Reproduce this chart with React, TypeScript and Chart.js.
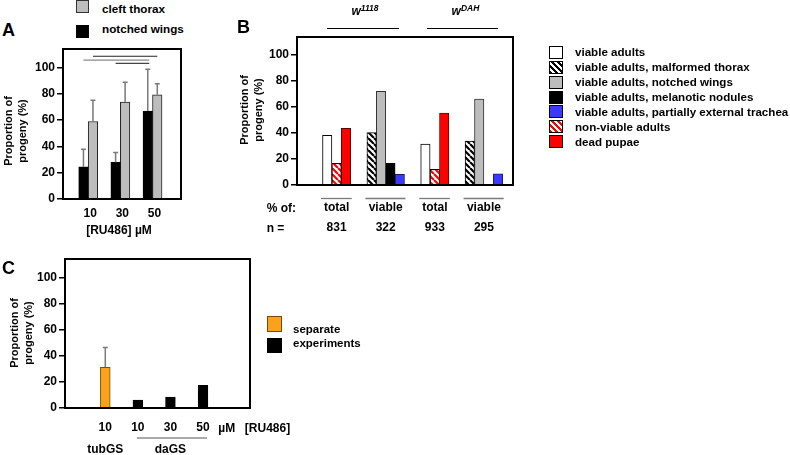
import React, { useEffect, useRef } from 'react';
import { Chart, registerables } from 'chart.js';

Chart.register(...registerables);

const FONT = '"Liberation Sans", Arial, Helvetica, sans-serif';
Chart.defaults.font.family = FONT;
Chart.defaults.color = '#000';

// ---------------- data ----------------
const yTicks = [0, 20, 40, 60, 80, 100];
const yMax = 114;

// Panel A
const aDoses = ['10', '30', '50'];
const aNotchedWings = [24.5, 27.9, 66.8];
const aNotchedWingsSd = [13.3, 7.4, 31.9];
const aCleftThorax = [58.9, 73.6, 79.2];
const aCleftThoraxSd = [16.2, 15.2, 8.4];
const aLegend = ['cleft thorax', 'notched wings'];
// significance bars: [datasetIndex, doseIndex] from -> to, level in %
const aSigFrom = [[1, 0], [0, 0], [0, 1]];
const aSigTo = [[1, 2], [0, 2], [0, 2]];
const aSigLevel = [108.5, 105.5, 103];

// Panel B
const bGroups = ['total', 'viable', 'total', 'viable'];
const bCounts = ['831', '322', '933', '295'];
const bGenotypes = ['1118', 'DAH'];
const bNames = [
  'viable adults',
  'viable adults, malformed thorax',
  'viable adults, notched wings',
  'viable adults, melanotic nodules',
  'viable adults, partially external trachea',
  'non-viable adults',
  'dead pupae',
];
const bViableAdults = [38.3, null, 31.6, null];
const bMalformedThorax = [null, 40.3, null, 33.9];
const bNotchedWings = [null, 72.2, null, 66.1];
const bMelanoticNodules = [null, 16.6, null, 0];
const bExternalTrachea = [null, 8.2, null, 8.7];
const bNonViable = [16.6, null, 12.0, null];
const bDeadPupae = [43.6, null, 55.4, null];
const bSeries = [bViableAdults, bMalformedThorax, bNotchedWings, bMelanoticNodules, bExternalTrachea, bNonViable, bDeadPupae];

// Panel C
const cDoses = ['10', '10', '30', '50'];
const cDrivers = ['tubGS', '', 'daGS', ''];
const cValues = [31.1, 6.1, 8.4, 17.3];
const cSd = [15.1, null, null, null];
const cDriverKind = ['tub', 'da', 'da', 'da'];

// ---------------- styles / layout ----------------
const GRAY = '#bdbdbd';
const RED = '#ff0000';
const BLUE = '#3a3aff';
const ORANGE = '#fba21c';

type Frame = { cl: number; ct: number; cw: number; ch: number; L: number; T: number; R: number; B: number };
const FA: Frame = { cl: 0, ct: 40, cw: 190, ch: 185, L: 63, T: 49, R: 181, B: 199 };
const FB: Frame = { cl: 230, ct: 30, cw: 290, ch: 215, L: 297, T: 37, R: 513, B: 185 };
const FC: Frame = { cl: 0, ct: 250, cw: 260, ch: 205, L: 65, T: 259, R: 250, B: 408 };

function hatchPattern(color: string) {
  const p = 6;
  const c = document.createElement('canvas');
  c.width = p;
  c.height = p;
  const g = c.getContext('2d')!;
  g.fillStyle = '#fff';
  g.fillRect(0, 0, p, p);
  g.strokeStyle = color;
  g.lineWidth = 2.2;
  g.beginPath();
  for (const o of [-p, 0, p]) {
    g.moveTo(o, 0);
    g.lineTo(o + p, p);
  }
  g.stroke();
  return g.createPattern(c, 'repeat');
}
const hatchCss = (color: string) =>
  `repeating-linear-gradient(45deg, ${color} 0px, ${color} 1.7px, #fff 1.7px, #fff 4.2px)`;

const framePlugin = {
  id: 'frame',
  afterDraw(chart: any) {
    const { ctx, chartArea: a } = chart;
    ctx.save();
    ctx.strokeStyle = '#000';
    ctx.lineWidth = 2;
    ctx.strokeRect(a.left, a.top, a.right - a.left, a.bottom - a.top);
    ctx.restore();
  },
};

const errorBarPlugin = {
  id: 'errorBars',
  afterDatasetsDraw(chart: any) {
    const { ctx } = chart;
    const ys = chart.scales.y;
    chart.data.datasets.forEach((ds: any, di: number) => {
      if (!ds.sd) return;
      const meta = chart.getDatasetMeta(di);
      meta.data.forEach((bar: any, i: number) => {
        const sd = ds.sd[i];
        const v = ds.data[i].y;
        if (sd == null || v == null) return;
        const top = ys.getPixelForValue(v + sd);
        ctx.save();
        ctx.strokeStyle = '#7a7a7a';
        ctx.lineWidth = 1.5;
        ctx.beginPath();
        ctx.moveTo(bar.x, bar.y);
        ctx.lineTo(bar.x, top);
        ctx.moveTo(bar.x - 2.5, top);
        ctx.lineTo(bar.x + 2.5, top);
        ctx.stroke();
        ctx.restore();
      });
    });
  },
};

function makeOptions(
  f: Frame,
  xMin: number,
  xMax: number,
  labels: (string | string[])[],
  tickPad: number,
  lineHeight: number | string,
  labelOffset: number
) {
  return {
    responsive: false,
    animation: false,
    events: [],
    layout: { padding: { left: 0, top: f.T - f.ct, right: f.cl + f.cw - f.R, bottom: 0 } },
    plugins: { legend: { display: false }, tooltip: { enabled: false } },
    scales: {
      x: {
        type: 'linear',
        min: xMin,
        max: xMax,
        offset: false,
        grid: { display: false, offset: false, drawTicks: false, tickLength: 0 },
        border: { display: false },
        afterFit: (s: any) => {
          s.height = f.ct + f.ch - f.B;
          s.paddingLeft = 0;
          s.paddingRight = 0;
        },
        afterBuildTicks: (s: any) => {
          s.ticks = labels.map((_, i) => ({ value: i }));
        },
        ticks: {
          autoSkip: false,
          maxRotation: 0,
          minRotation: 0,
          padding: tickPad,
          labelOffset,
          color: '#000',
          font: { size: 12, weight: 'bold', lineHeight },
          callback: (v: number) => labels[v],
        },
      },
      y: {
        min: 0,
        max: yMax,
        grid: { drawOnChartArea: false, color: '#000', lineWidth: 1.5, tickLength: 6 },
        border: { display: false },
        afterFit: (s: any) => {
          s.width = f.L - f.cl;
          s.paddingTop = 0;
          s.paddingBottom = 0;
        },
        afterBuildTicks: (s: any) => {
          s.ticks = yTicks.map((v) => ({ value: v }));
        },
        ticks: { padding: 2, color: '#000', font: { size: 12, weight: 'bold' } },
      },
    },
  } as any;
}

const toPoints = (arr: (number | null)[]) => arr.map((y, i) => ({ x: i, y }));

// ---------------- small HTML helpers ----------------
const T = ({ x, y, a = 'l', s = 12, it = false, children }: any) => (
  <div
    style={{
      position: 'absolute',
      left: x,
      top: y,
      transform: `translate(${a === 'l' ? '0' : a === 'c' ? '-50%' : '-100%'}, -50%)`,
      font: `${it ? 'italic ' : ''}bold ${s}px ${FONT}`,
      lineHeight: 1,
      whiteSpace: 'nowrap',
      color: '#000',
    }}
  >
    {children}
  </div>
);

const VLabel = ({ cx, cy, lines, s = 11, lh = 13.5 }: any) => (
  <div
    style={{
      position: 'absolute',
      left: cx,
      top: cy,
      transform: 'translate(-50%, -50%) rotate(-90deg)',
      font: `bold ${s}px ${FONT}`,
      lineHeight: `${lh}px`,
      textAlign: 'center',
      whiteSpace: 'nowrap',
    }}
  >
    {lines.map((l: string, i: number) => (
      <div key={i}>{l}</div>
    ))}
  </div>
);

const HL = ({ x1, x2, y, c = '#000', w = 1 }: any) => (
  <div style={{ position: 'absolute', left: x1, top: y - w / 2, width: x2 - x1, height: w, background: c }} />
);

const Swatch = ({ x, y, w, h, bg, bc = '#000' }: any) => (
  <div
    style={{
      position: 'absolute',
      left: x,
      top: y,
      width: w,
      height: h,
      background: bg,
      border: `1px solid ${bc}`,
      boxSizing: 'border-box',
    }}
  />
);

const Geno = ({ x, sup }: any) => (
  <div
    style={{
      position: 'absolute',
      left: x,
      top: 5,
      transform: 'translateX(-50%)',
      font: `italic bold 12px ${FONT}`,
      lineHeight: '12px',
      whiteSpace: 'nowrap',
    }}
  >
    w<span style={{ fontSize: 8.5, position: 'relative', top: -4 }}>{sup}</span>
  </div>
);

export default function App() {
  const aRef = useRef<HTMLCanvasElement>(null);
  const bRef = useRef<HTMLCanvasElement>(null);
  const cRef = useRef<HTMLCanvasElement>(null);

  useEffect(() => {
    const charts: Chart[] = [];

    // ---- Panel A ----
    const sigPlugin = {
      id: 'sig',
      afterDatasetsDraw(chart: any) {
        const { ctx } = chart;
        const colors = ['#222', '#8a8a8a', '#444'];
        aSigLevel.forEach((lvl, k) => {
          const e1 = chart.getDatasetMeta(aSigFrom[k][0]).data[aSigFrom[k][1]];
          const e2 = chart.getDatasetMeta(aSigTo[k][0]).data[aSigTo[k][1]];
          const y = chart.scales.y.getPixelForValue(lvl);
          ctx.save();
          ctx.strokeStyle = colors[k];
          ctx.lineWidth = 1.2;
          ctx.beginPath();
          ctx.moveTo(e1.x, y);
          ctx.lineTo(e2.x + (k === 0 ? 0 : 1.5), y);
          ctx.stroke();
          ctx.restore();
        });
      },
    };
    charts.push(
      new Chart(aRef.current!, {
        type: 'bar',
        data: {
          datasets: [
            {
              label: aLegend[1],
              data: toPoints(aNotchedWings),
              backgroundColor: '#000',
              borderColor: '#000',
              borderWidth: 1,
              barThickness: 9.5,
              sd: aNotchedWingsSd,
            } as any,
            {
              label: aLegend[0],
              data: toPoints(aCleftThorax),
              backgroundColor: GRAY,
              borderColor: '#222',
              borderWidth: 1,
              barThickness: 9.5,
              sd: aCleftThoraxSd,
            } as any,
          ],
        },
        options: makeOptions(FA, -0.784, 2.886, aDoses, 7, 1.2, 2),
        plugins: [framePlugin, errorBarPlugin, sigPlugin],
      })
    );

    // ---- Panel B ----
    const bFills: any[] = ['#fff', hatchPattern('#000'), GRAY, '#000', BLUE, hatchPattern(RED), RED];
    const bBorders = ['#000', '#000', '#333', '#000', '#1a1a80', '#000', '#600'];
    const groupLinePlugin = {
      id: 'groupLines',
      afterDraw(chart: any) {
        const { ctx, chartArea } = chart;
        ctx.save();
        ctx.strokeStyle = '#7a7a7a';
        ctx.lineWidth = 1.3;
        bGroups.forEach((_, i) => {
          let lo = Infinity;
          let hi = -Infinity;
          chart.data.datasets.forEach((ds: any, di: number) => {
            const el = chart.getDatasetMeta(di).data[i];
            if (ds.data[i].y == null || !el) return;
            lo = Math.min(lo, el.x - el.width / 2);
            hi = Math.max(hi, el.x + el.width / 2);
          });
          const y = chartArea.bottom + 13.5;
          ctx.beginPath();
          ctx.moveTo(lo - 1.5, y);
          ctx.lineTo(hi + 1, y);
          ctx.stroke();
        });
        ctx.restore();
      },
    };
    charts.push(
      new Chart(bRef.current!, {
        type: 'bar',
        data: {
          datasets: bSeries.map((vals, k) => ({
            label: bNames[k],
            data: toPoints(vals),
            backgroundColor: bFills[k],
            borderColor: bBorders[k],
            borderWidth: 1,
            barThickness: 9.4,
            skipNull: true,
          })) as any,
        },
        options: makeOptions(
          FB,
          -0.807,
          3.593,
          bGroups.map((g, i) => [g, bCounts[i]]),
          12.7,
          '20px',
          0
        ),
        plugins: [framePlugin, groupLinePlugin],
      })
    );

    // ---- Panel C ----
    const daLinePlugin = {
      id: 'daLine',
      afterDraw(chart: any) {
        const { ctx, chartArea } = chart;
        const xs = chart.scales.x;
        const idx = cDriverKind.map((k, i) => (k === 'da' ? i : -1)).filter((i) => i >= 0);
        const x1 = xs.getPixelForValue(idx[0]) - 1;
        const x2 = xs.getPixelForValue(idx[idx.length - 1]) + 4;
        const y = chartArea.bottom + 30;
        ctx.save();
        ctx.strokeStyle = '#555';
        ctx.lineWidth = 1.2;
        ctx.beginPath();
        ctx.moveTo(x1, y);
        ctx.lineTo(x2, y);
        ctx.stroke();
        ctx.restore();
      },
    };
    charts.push(
      new Chart(cRef.current!, {
        type: 'bar',
        data: {
          datasets: [
            {
              label: 'separate experiments',
              data: toPoints(cValues),
              backgroundColor: cDriverKind.map((k) => (k === 'tub' ? ORANGE : '#000')),
              borderColor: cDriverKind.map((k) => (k === 'tub' ? '#7a4a00' : '#000')),
              borderWidth: 1,
              barThickness: 9.8,
              sd: cSd,
            } as any,
          ],
        },
        options: makeOptions(
          FC,
          -1.237,
          4.443,
          cDoses.map((d, i) => [d, cDrivers[i]]),
          9,
          '22px',
          0
        ),
        plugins: [framePlugin, errorBarPlugin, daLinePlugin],
      })
    );

    return () => charts.forEach((c) => c.destroy());
  }, []);

  const bCss = ['#fff', hatchCss('#000'), GRAY, '#000', BLUE, hatchCss(RED), RED];

  return (
    <div
      style={{
        position: 'absolute',
        left: 0,
        top: 0,
        width: 790,
        height: 455,
        background: '#fff',
        overflow: 'hidden',
        fontFamily: FONT,
      }}
    >
      <canvas ref={aRef} width={FA.cw} height={FA.ch} style={{ position: 'absolute', left: FA.cl, top: FA.ct }} />
      <canvas ref={bRef} width={FB.cw} height={FB.ch} style={{ position: 'absolute', left: FB.cl, top: FB.ct }} />
      <canvas ref={cRef} width={FC.cw} height={FC.ch} style={{ position: 'absolute', left: FC.cl, top: FC.ct }} />

      {/* Panel A */}
      <T x={2} y={29.5} s={18}>A</T>
      <Swatch x={76} y={0} w={13} h={13} bg={GRAY} bc="#333" />
      <Swatch x={76} y={24.5} w={13} h={13} bg="#000" />
      <T x={102} y={9} s={11.7}>{aLegend[0]}</T>
      <T x={102} y={29} s={11.7}>{aLegend[1]}</T>
      <VLabel cx={15} cy={131} lines={['Proportion of', 'progeny (%)']} />
      <T x={119} y={230} a="c">[RU486] µM</T>

      {/* Panel B */}
      <T x={237} y={26.5} s={18}>B</T>
      <Geno x={365} sup={bGenotypes[0]} />
      <Geno x={465.5} sup={bGenotypes[1]} />
      <HL x1={327} x2={399} y={28} />
      <HL x1={427} x2={498} y={28} />
      <VLabel cx={250.5} cy={110} lines={['Proportion of', 'progeny (%)']} />
      <T x={266.7} y={207.7}>% of:</T>
      <T x={266.7} y={227.7}>n =</T>
      {bNames.map((n, i) => (
        <React.Fragment key={n}>
          <Swatch x={548.5} y={52.3 + i * 14.9 - 6.5} w={14} h={13} bg={bCss[i]} />
          <T x={575} y={52.3 + i * 14.9} s={11.6}>{n}</T>
        </React.Fragment>
      ))}

      {/* Panel C */}
      <T x={2} y={267.5} s={18}>C</T>
      <VLabel cx={20.5} cy={332.5} lines={['Proportion of', 'progeny (%)']} />
      <T x={226.7} y={428} a="c">µM</T>
      <T x={267.5} y={428} a="c">[RU486]</T>
      <Swatch x={266.7} y={316} w={15} h={15.5} bg={ORANGE} bc="#7a4a00" />
      <Swatch x={266.7} y={337.7} w={15} h={15} bg="#000" />
      <div
        style={{
          position: 'absolute',
          left: 293,
          top: 336,
          transform: 'translateY(-50%)',
          font: `bold 11.5px ${FONT}`,
          lineHeight: '14px',
          whiteSpace: 'nowrap',
        }}
      >
        <div>separate</div>
        <div>experiments</div>
      </div>
    </div>
  );
}
